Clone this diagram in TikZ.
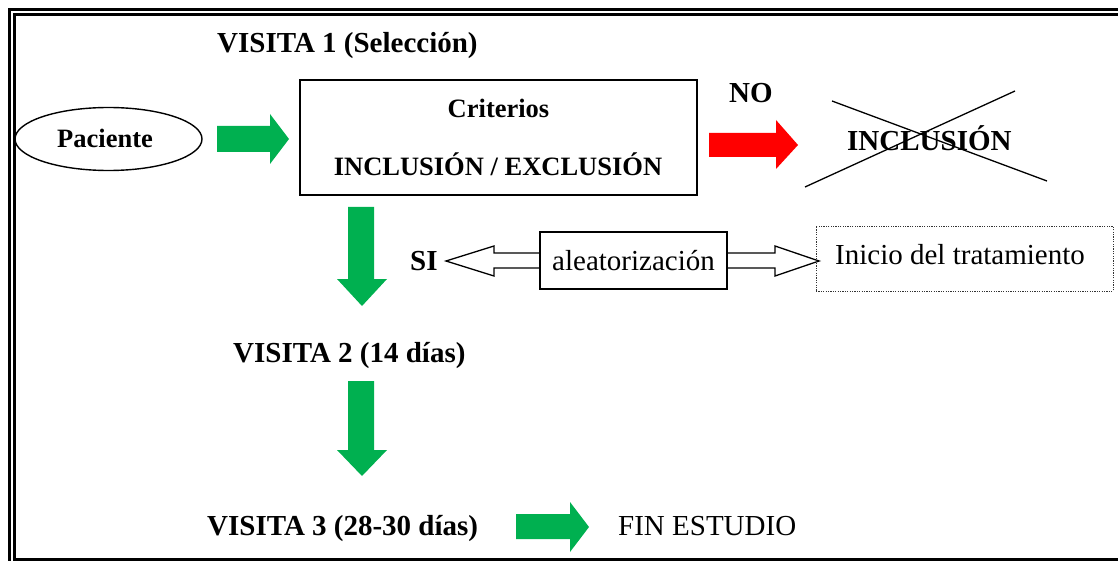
\documentclass[tikz,border=0pt]{standalone}
\usepackage{fontspec}
\setmainfont{Liberation Serif}
\usetikzlibrary{shapes.geometric}
\definecolor{flowgreen}{RGB}{0,176,80}
\definecolor{stopred}{RGB}{255,0,0}
\begin{document}
\begin{tikzpicture}[x=1pt,y=-1pt,
  boldtext/.style={font=\fontsize{29}{32}\selectfont\bfseries, inner sep=0, anchor=base west},
  boldsmall/.style={font=\fontsize{26.5}{30}\selectfont\bfseries, inner sep=0, anchor=base},
  plaintext/.style={font=\fontsize{29}{32}\selectfont, inner sep=0, anchor=base west},
  outline/.style={draw=black, line width=1.4pt},
  greenarrow/.style={fill=flowgreen},
  hollowarrow/.style={draw=black, line width=1.3pt, line join=miter}]
\useasboundingbox (0,0) rectangle (1118,561);

% double page frame
\draw[line width=2.2pt] (9.5,9.5) rectangle (1132,575);
\draw[line width=2.2pt] (14.5,14.5) rectangle (1124,559.5);

% first visit
\node[boldtext] (v1) at (217,53) {VISITA 1 (Selección)};
\node[ellipse, outline, minimum width=187, minimum height=63, inner sep=0] (pac) at (108.5,139) {};
\node[boldsmall] (pactext) at (105,148) {Paciente};
\fill[greenarrow] (217,126) -- (270,126) -- (270,114) -- (289,139) -- (270,164) -- (270,152) -- (217,152) -- cycle;

\node[outline, minimum width=397, minimum height=115, inner sep=0] (crit) at (498.5,137.5) {};
\node[boldsmall] (critA) at (498.5,118) {Criterios};
\node[boldsmall] (critB) at (498,176) {INCLUSIÓN / EXCLUSIÓN};

% rejected branch
\node[boldtext] (no) at (729,103) {NO};
\fill[stopred] (709,133) -- (776,133) -- (776,120) -- (798,145) -- (776,169) -- (776,157) -- (709,157) -- cycle;
\node[boldtext] (excl) at (847,151) {INCLUSIÓN};
\draw[line width=1.3pt] (832,101) -- (1047,181);
\draw[line width=1.3pt] (805,187) -- (1015,91);

% accepted branch
\fill[greenarrow] (348,207) -- (374,207) -- (374,279) -- (387,279) -- (362,306) -- (337,279) -- (348,279) -- cycle;
\node[boldtext] (si) at (410,270) {SI};

\draw[hollowarrow] (540,253) -- (494,253) -- (494,246) -- (446,261) -- (494,276) -- (494,268) -- (540,268);
\draw[hollowarrow] (727,253) -- (775,253) -- (775,246) -- (819,261) -- (775,276) -- (775,268) -- (727,268);
\node[outline, fill=white, minimum width=187, minimum height=57, inner sep=0] (rand) at (633.5,260.5) {};
\node[plaintext, anchor=base] (randtext) at (633.5,270) {aleatorización};

\node[draw=black!80, line width=0.9pt, dash pattern=on 1.2pt off 1.2pt, minimum width=297, minimum height=65, inner sep=0] (start) at (964.5,258.5) {};
\node[plaintext] (starttext) at (835,265) {Inicio del tratamiento};

% second visit
\node[boldtext] (v2) at (233,362) {VISITA 2 (14 días)};
\fill[greenarrow] (348,381) -- (374,381) -- (374,450) -- (387,450) -- (362,476) -- (337,450) -- (348,450) -- cycle;

% third visit
\node[boldtext] (v3) at (207,535) {VISITA 3 (28-30 días)};
\fill[greenarrow] (516,514) -- (570,514) -- (570,502) -- (589,527) -- (570,552) -- (570,539) -- (516,539) -- cycle;
\node[plaintext] (fin) at (618,535) {FIN ESTUDIO};
\end{tikzpicture}
\end{document}
